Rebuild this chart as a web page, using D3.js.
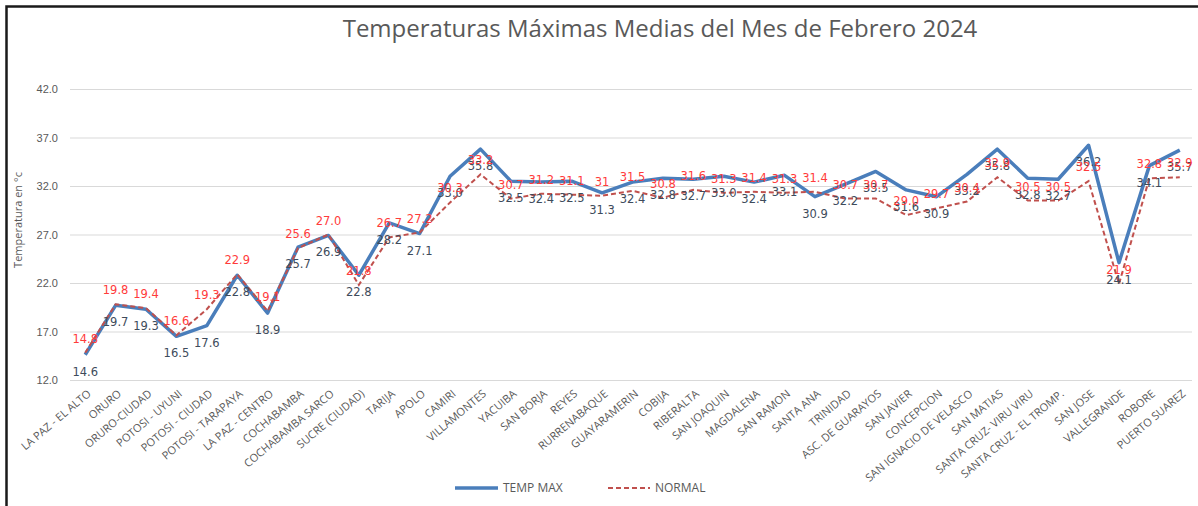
<!DOCTYPE html>
<html>
<head>
<meta charset="utf-8">
<script src="https://d3js.org/d3.v7.min.js"></script>
<style>
  body { margin: 0; background: #ffffff; }
  svg { display: block; font-family: "Open Sans", "Noto Sans", sans-serif; }
</style>
</head>
<body>
<svg id="chart" width="1198" height="506"></svg>
<script>
"use strict";

// estaciones (eje x)
var estaciones = [
  "LA PAZ - EL ALTO", "ORURO", "ORURO-CIUDAD", "POTOSI - UYUNI", "POTOSI - CIUDAD",
  "POTOSI - TARAPAYA", "LA PAZ - CENTRO", "COCHABAMBA", "COCHABAMBA SARCO", "SUCRE (CIUDAD)",
  "TARIJA", "APOLO", "CAMIRI", "VILLAMONTES", "YACUIBA", "SAN BORJA", "REYES",
  "RURRENABAQUE", "GUAYARAMERIN", "COBIJA", "RIBERALTA", "SAN JOAQUIN", "MAGDALENA",
  "SAN RAMON", "SANTA ANA", "TRINIDAD", "ASC. DE GUARAYOS", "SAN JAVIER", "CONCEPCION",
  "SAN IGNACIO DE VELASCO", "SAN MATIAS", "SANTA CRUZ- VIRU VIRU", "SANTA CRUZ - EL TROMP.",
  "SAN JOSE", "VALLEGRANDE", "ROBORE", "PUERTO SUAREZ"
];

// temperatura maxima media febrero 2024
var tempMax = [
  14.6, 19.7, 19.3, 16.5, 17.6, 22.8, 18.9, 25.7, 26.9, 22.8,
  28.2, 27.1, 33.0, 35.8, 32.5, 32.4, 32.5, 31.3, 32.4, 32.8,
  32.7, 33.0, 32.4, 33.1, 30.9, 32.2, 33.5, 31.6, 30.9, 33.2,
  35.8, 32.8, 32.7, 36.2, 24.1, 34.1, 35.7
];

// normal
var normal = [
  14.8, 19.8, 19.4, 16.6, 19.3, 22.9, 19.1, 25.6, 27.0, 21.8,
  26.7, 27.2, 30.3, 33.2, 30.7, 31.2, 31.1, 31.0, 31.5, 30.8,
  31.6, 31.3, 31.4, 31.3, 31.4, 30.7, 30.7, 29.0, 29.7, 30.4,
  32.9, 30.5, 30.5, 32.5, 21.9, 32.8, 32.9
];

// etiquetas tal como aparecen (RURRENABAQUE sin decimal)
var normalLabels = normal.map(function(d, i) { return i == 17 ? "31" : d.toFixed(1); });

var yTicks = [12, 17, 22, 27, 32, 37, 42];

var svg = d3.select("#chart");

var x = d3.scalePoint()
  .domain(estaciones)
  .range([70, 1195])
  .padding(0.5);

var y = d3.scaleLinear()
  .domain([12, 42])
  .range([380, 89]);

// marco
svg.append("path")
  .attr("d", "M6.5,506 L6.5,6.5 L1198,6.5")
  .attr("fill", "none")
  .attr("stroke", "#1a1a1a")
  .attr("stroke-width", 2.5);

// titulo
svg.append("text")
  .attr("x", 660)
  .attr("y", 37)
  .attr("text-anchor", "middle")
  .attr("font-size", "24px")
  .attr("fill", "#595959")
  .text("Temperaturas Máximas Medias del Mes de Febrero 2024");

// grilla + eje y
var yAxis = d3.axisLeft(y)
  .tickValues(yTicks)
  .tickSize(-(1192 - 70))
  .tickPadding(12)
  .tickFormat(d3.format(".1f"));

svg.append("g")
  .attr("class", "y-axis")
  .attr("transform", "translate(70,0)")
  .call(yAxis)
  .call(function(g) { g.select(".domain").remove(); })
  .call(function(g) {
    g.selectAll(".tick line").attr("stroke", "#d9d9d9").attr("stroke-width", 1.2);
    g.selectAll(".tick text").attr("fill", "#595959").attr("font-size", "11px");
  });

// titulo eje y
svg.append("text")
  .attr("transform", "translate(22,220) rotate(-90)")
  .attr("text-anchor", "middle")
  .attr("font-size", "11px")
  .attr("fill", "#595959")
  .text("Temperatura en °c");

// etiquetas eje x
svg.append("g")
  .attr("class", "x-labels")
  .selectAll("text")
  .data(estaciones)
  .enter()
  .append("text")
  .attr("transform", function(d) { return "translate(" + (x(d) + 4) + ",392) rotate(-40)"; })
  .attr("text-anchor", "end")
  .attr("dy", "0.35em")
  .attr("font-size", "11px")
  .attr("fill", "#595959")
  .text(function(d) { return d; });

var line = d3.line()
  .x(function(d, i) { return x(estaciones[i]); })
  .y(function(d) { return y(d); });

// TEMP MAX
svg.append("path")
  .datum(tempMax)
  .attr("fill", "none")
  .attr("stroke", "#4a7ebb")
  .attr("stroke-width", 3.5)
  .attr("stroke-linejoin", "round")
  .attr("d", line);

// NORMAL
svg.append("path")
  .datum(normal)
  .attr("fill", "none")
  .attr("stroke", "#c0504d")
  .attr("stroke-width", 2)
  .attr("stroke-dasharray", "5,3")
  .attr("d", line);

// valores
svg.append("g")
  .selectAll("text")
  .data(tempMax)
  .enter()
  .append("text")
  .attr("x", function(d, i) { return x(estaciones[i]); })
  .attr("y", function(d) { return y(d) + 21; })
  .attr("text-anchor", "middle")
  .attr("font-family", "DejaVu Sans")
  .attr("font-size", "11.5px")
  .attr("fill", "#3e4b5b")
  .text(function(d) { return d.toFixed(1); });

svg.append("g")
  .selectAll("text")
  .data(normal)
  .enter()
  .append("text")
  .attr("x", function(d, i) { return x(estaciones[i]); })
  .attr("y", function(d) { return y(d) - 10; })
  .attr("text-anchor", "middle")
  .attr("font-family", "DejaVu Sans")
  .attr("font-size", "11.5px")
  .attr("fill", "#ff3b3b")
  .text(function(d, i) { return normalLabels[i]; });

// leyenda
var legend = svg.append("g")
  .attr("class", "legend")
  .attr("font-size", "12px")
  .attr("fill", "#595959");

legend.append("line")
  .attr("x1", 455).attr("x2", 498)
  .attr("y1", 488).attr("y2", 488)
  .attr("stroke", "#4a7ebb")
  .attr("stroke-width", 3.5);

legend.append("text")
  .attr("x", 503)
  .attr("y", 492)
  .text("TEMP MAX");

legend.append("line")
  .attr("x1", 608).attr("x2", 650)
  .attr("y1", 488).attr("y2", 488)
  .attr("stroke", "#c0504d")
  .attr("stroke-width", 2)
  .attr("stroke-dasharray", "5,3");

legend.append("text")
  .attr("x", 655)
  .attr("y", 492)
  .text("NORMAL");
</script>
</body>
</html>
